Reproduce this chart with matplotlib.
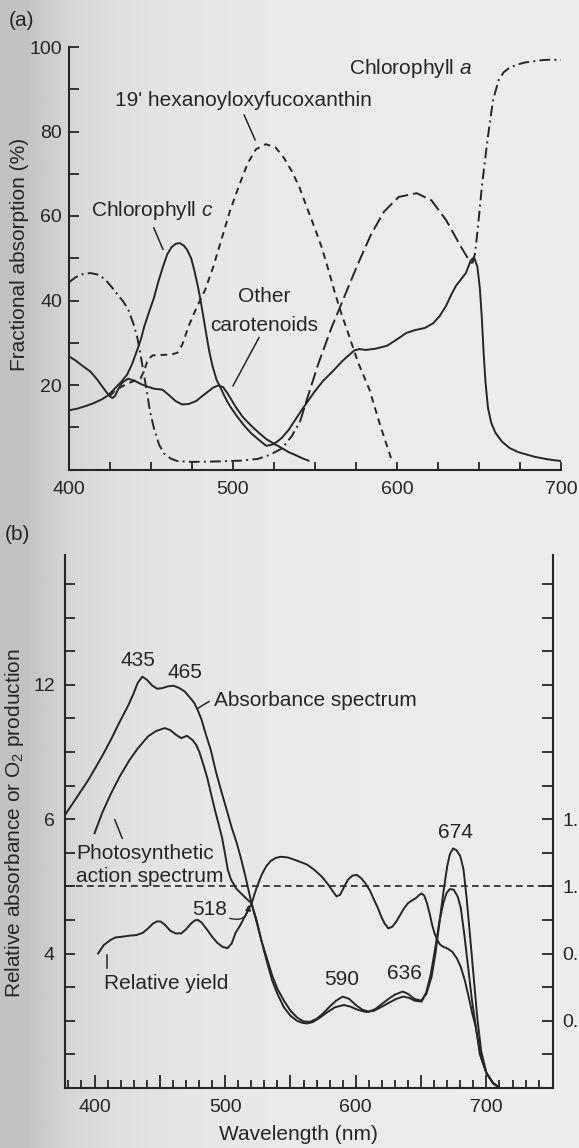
import matplotlib
matplotlib.use('Agg')
import numpy as np
import matplotlib.pyplot as plt
from matplotlib.ticker import FixedLocator, MultipleLocator, FuncFormatter, FixedFormatter

plt.rcParams['font.family'] = ['Liberation Sans', 'DejaVu Sans']
plt.rcParams['mathtext.fontset'] = 'custom'
plt.rcParams['mathtext.rm'] = 'Liberation Sans'
plt.rcParams['mathtext.it'] = 'Liberation Sans:italic'
plt.rcParams['font.size'] = 15

INK = '#262626'
TXT = 15

# ---------------- (a) fractional absorption (%) ----------------
chla_nm = [400, 404, 408, 413, 418, 422, 426, 430, 433, 436, 439, 441.5, 443.5, 445, 447, 449.5,
           452, 455, 458, 462, 466, 475, 490, 505, 515, 522, 530, 536, 541, 545, 552, 560, 568,
           576, 584, 592, 601, 612, 621, 630, 639, 644, 646, 647.5, 649, 651.7, 655.1, 658.5,
           661.8, 665, 668.6, 673, 677.6, 683, 688.8, 694, 700]
chla = [44.3, 45.5, 46.2, 46.5, 46.1, 45.0, 43.2, 41.2, 39.8, 38.0, 34.8, 31.5, 27.5, 24.0, 19.5, 13.5,
        9.5, 5.8, 3.8, 2.6, 2.0, 1.8, 1.9, 2.1, 2.5, 3.4, 5.0, 8.0, 11.5, 16.5, 25.0, 33.5, 41.0,
        48.5, 55.5, 61.0, 64.5, 65.4, 63.7, 59.0, 52.7, 49.5, 48.8, 51.0, 56.0, 66.8, 77.8, 87.3,
        92.0, 94.0, 95.1, 95.8, 96.3, 96.6, 96.9, 97.0, 96.9]

hex_nm = [425, 428, 432, 436, 440, 443.5, 446, 448, 451, 456, 462, 466, 469, 473, 478, 483, 488,
          493, 498, 503.5, 509, 514, 520, 526, 531, 536, 540.5, 545, 549.5, 554, 558, 562, 566,
          570, 576.4, 583.2, 589.9, 596.6]
hexfuco = [17.5, 18.6, 19.6, 20.4, 21.0, 21.5, 23.5, 26.0, 27.0, 27.1, 27.2, 27.6, 29.5, 34.0, 38.5,
           42.5, 48.0, 54.5, 61.0, 67.0, 72.5, 75.8, 77.0, 76.2, 73.8, 70.5, 66.8, 62.1, 57.5,
           52.7, 47.5, 42.0, 37.0, 32.5, 25.2, 18.9, 10.3, 2.4]

chlc_nm = [400, 405, 410, 415, 420, 424, 428, 432, 435.5, 438.5, 441.6, 444, 446, 449, 451.7,
           454.5, 457.3, 460, 462.5, 465, 467.4, 470, 472, 474.5, 476.5, 478.5, 480, 482, 483.5,
           485.5, 487.5, 490, 492.5, 495, 497.8, 502, 506.8, 511, 515.8, 520.3, 524, 527, 530,
           534, 538, 543, 549.5, 555, 560.7, 567, 574, 577, 581, 587, 594, 600, 605.6, 611,
           617, 622, 626, 630, 633, 636, 639, 642, 645, 647, 649, 650.5, 651.7, 652.9, 654,
           655.5, 657.5, 660, 664, 668.6, 674, 684, 692, 700]
chlc = [14.0, 14.4, 15.0, 15.7, 16.6, 17.6, 19.2, 20.8, 22.5, 25.0, 28.3, 31.0, 34.0, 37.5, 40.5,
        44.5, 48.0, 51.0, 52.6, 53.4, 53.6, 53.0, 52.0, 50.0, 47.0, 43.5, 40.5, 36.0, 32.5,
        28.0, 24.5, 21.2, 19.3, 17.2, 15.2, 12.8, 10.4, 8.6, 7.0, 5.6, 5.9, 6.6, 7.6,
        9.4, 11.8, 14.7, 18.3, 21.0, 23.2, 25.8, 28.2, 28.5, 28.3, 28.6, 29.3, 30.8, 32.3, 33.0,
        33.5, 34.6, 36.3, 38.8, 41.3, 43.5, 45.0, 46.5, 49.5, 50.2, 48.0, 43.0, 36.0, 27.0, 20.5,
        14.5, 11.0, 8.7, 6.6, 5.1, 4.1, 3.0, 2.4, 2.0]

car_nm = [400, 404, 408, 413, 417, 420, 423, 425, 426.5, 428, 430, 432.5, 436, 440, 444, 448, 452,
          457, 461, 465, 469, 473, 477.5, 481, 484.3, 488, 491, 494, 497, 502, 506, 511, 516,
          520.3, 525, 529.2, 534, 538.2, 542, 546]
car = [26.8, 25.8, 24.6, 23.2, 21.4, 19.8, 18.2, 17.3, 16.9, 17.4, 19.0, 20.6, 21.5, 21.0, 20.2,
       19.6, 19.1, 18.9, 17.6, 16.2, 15.4, 15.5, 16.2, 17.3, 18.3, 19.4, 19.9, 19.5, 17.8, 14.6,
       12.4, 10.4, 8.6, 7.2, 6.1, 5.2, 4.1, 3.4, 2.7, 2.1]

# ---------------- (b) absorbance / action spectrum / yield ----------------
abs_nm = [377, 383, 389, 395, 401, 407, 413, 418, 422, 426, 430, 433, 436.6, 440, 444, 448, 452,
          456, 460.5, 465, 469, 473, 476.5, 479.5, 482, 485, 489, 493, 497.5, 501, 505, 508.8,
          512, 515.5, 520.2, 524, 528, 532, 536, 540, 545, 550, 555, 560, 565, 570, 575, 580,
          585, 590, 595, 600, 605, 610, 615, 620, 625, 630, 636, 640, 645, 650, 654, 658, 661,
          664, 667, 670, 672, 674.5, 677, 680, 682.5, 685, 688, 690.5, 693, 696, 700, 705, 712]
absorb = [8.1, 8.45, 8.8, 9.15, 9.55, 9.96, 10.4, 10.8, 11.1, 11.4, 11.75, 12.05, 12.24, 12.15,
          11.98, 11.88, 11.9, 11.95, 11.97, 11.9, 11.8, 11.62, 11.45, 11.2, 10.95, 10.55, 10.06,
          9.4, 8.77, 8.3, 7.75, 7.3, 6.85, 6.3, 5.49, 4.95, 4.35, 3.85, 3.35, 2.95, 2.6, 2.3,
          2.1, 1.98, 1.97, 2.06, 2.22, 2.42, 2.6, 2.72, 2.65, 2.47, 2.33, 2.27, 2.35, 2.5, 2.65,
          2.78, 2.87, 2.8, 2.65, 2.6, 2.8, 3.3, 4.0, 4.9, 5.8, 6.6, 6.95, 7.13, 7.08, 6.9, 6.5,
          5.6, 4.3, 3.2, 2.1, 1.1, 0.45, 0.15, -0.05]

act_nm = [400, 406, 412.7, 419, 426.8, 433, 440.9, 447, 453.7, 458, 462, 466.4, 470.7, 474.9, 478,
          480.6, 483.5, 486.5, 489.1, 492, 495, 497.6, 500, 502, 504.5, 508.8, 514.5, 520.2, 524,
          528, 532, 536, 540, 545, 550, 555, 559, 562.6, 567, 572, 578, 584, 590.9, 596, 602,
          608, 614, 620, 626, 631, 636.2, 641, 645, 650.4, 654, 657.5, 661, 664, 667, 669.5,
          672, 675, 678, 680.4, 683, 686, 689, 692, 695, 700, 705, 712]
action = [7.58, 8.2, 8.77, 9.25, 9.76, 10.1, 10.46, 10.62, 10.71, 10.65, 10.52, 10.41, 10.48,
          10.36, 10.2, 9.96, 9.6, 9.2, 8.77, 8.3, 7.85, 7.45, 6.95, 6.5, 6.2, 5.92, 5.7, 5.49,
          5.0, 4.35, 3.75, 3.2, 2.8, 2.4, 2.15, 2.0, 1.94, 1.92, 1.96, 2.08, 2.25, 2.4, 2.47,
          2.42, 2.32, 2.26, 2.3, 2.42, 2.55, 2.65, 2.72, 2.68, 2.6, 2.57, 2.85, 3.4, 4.2, 4.95,
          5.5, 5.8, 5.92, 5.9, 5.7, 5.36, 4.6, 3.6, 2.6, 1.8, 1.0, 0.45, 0.15, -0.05]

yld_nm = [402.7, 407, 412, 416, 421, 426, 432, 437, 441, 445, 448, 450.8, 454, 458, 462, 466.4,
          470, 474, 477, 479.2, 482, 486, 490, 494, 498, 501.8, 505, 508, 511.7, 515, 520.2, 524,
          528, 531.5, 535, 539, 542.8, 548, 554, 562.6, 568, 574, 579, 582.5, 585.3, 588, 591,
          594, 597.5, 600.9, 604, 607.5, 610.8, 614, 617, 619.5, 622, 624.9, 628, 631, 634, 637,
          640, 643, 646, 648.5, 650.4, 652.5, 654.5, 656.5, 658.5, 660.3, 662.5, 664.5, 667,
          670.2, 674, 677.5, 680.4, 683.5, 686.5, 689, 691.8, 694, 696, 700, 705, 712]
yld = [4.0, 4.25, 4.4, 4.48, 4.5, 4.53, 4.55, 4.62, 4.75, 4.9, 4.96, 4.95, 4.85, 4.68, 4.6, 4.6,
       4.72, 4.9, 4.99, 5.0, 4.92, 4.72, 4.5, 4.32, 4.2, 4.16, 4.3, 4.62, 4.85, 5.1, 5.49, 5.95,
       6.35, 6.6, 6.76, 6.85, 6.88, 6.86, 6.78, 6.65, 6.5, 6.29, 6.05, 5.85, 5.7, 5.75, 5.98,
       6.2, 6.32, 6.34, 6.25, 6.08, 5.88, 5.6, 5.35, 5.1, 4.9, 4.75, 4.8, 4.95, 5.15, 5.35, 5.5,
       5.58, 5.65, 5.74, 5.79, 5.72, 5.5, 5.2, 4.85, 4.6, 4.4, 4.27, 4.2, 4.15, 4.05, 3.85, 3.6,
       3.2, 2.7, 2.25, 1.83, 1.35, 0.9, 0.45, 0.15, -0.05]

left_ticks = [4, 8, 12]
left_labels = ['4', '6', '12']
right_ticks = [0.6, 0.8, 1.0, 1.2]
right_labels = ['0.6', '0.8', '1.0', '1.2']
unit_line = 1.0

fig = plt.figure(figsize=(5.79, 11.48), dpi=100)

# paper shade of the scan, darker at the binding side
bg = fig.add_axes([0, 0, 1, 1], zorder=-10)
shade = [0.76, 0.84, 0.875, 0.895, 0.905, 0.91, 0.915, 0.918, 0.92, 0.922, 0.924, 0.925]
bg.imshow(np.array(shade)[None, :], cmap='gray', vmin=0, vmax=1, aspect='auto',
          interpolation='bilinear', extent=[0, 1, 0, 1])
bg.axis('off')

LW = 1.4

# ---- panel a
ax1 = fig.add_axes([69 / 579, 1 - 469.5 / 1148, (561 - 69) / 579, (469.5 - 47) / 1148])
ax1.patch.set_alpha(0)
ax1.set_xlim(400, 700)
ax1.set_ylim(0, 100)
for s in ['top', 'right']:
    ax1.spines[s].set_visible(False)
for s in ['left', 'bottom']:
    ax1.spines[s].set_linewidth(1.5)
    ax1.spines[s].set_color(INK)

# chlorophyll a: dash-dot, the 540-646 stretch is printed as plain long dashes
nm_a = np.array(chla_nm)
val_a = np.array(chla)
lo = nm_a <= 541
mid = (nm_a >= 541) & (nm_a <= 646)
hi = nm_a >= 646
dashdot = (0, (5.5, 2.2, 1.0, 2.2))
ax1.plot(nm_a[lo], val_a[lo], color=INK, lw=LW, ls=dashdot)
ax1.plot(nm_a[mid], val_a[mid], color=INK, lw=LW, ls=(0, (7, 2.6)))
ax1.plot(nm_a[hi], val_a[hi], color=INK, lw=LW, ls=dashdot)
ax1.plot(hex_nm, hexfuco, color=INK, lw=LW, ls=(0, (3.4, 2.6)))
ax1.plot(chlc_nm, chlc, color=INK, lw=LW)
ax1.plot(car_nm, car, color=INK, lw=LW)

ax1.xaxis.set_major_locator(FixedLocator([400, 500, 600, 700]))
ax1.xaxis.set_minor_locator(MultipleLocator(25))
ax1.yaxis.set_major_locator(FixedLocator([20, 40, 60, 80, 100]))
ax1.yaxis.set_minor_locator(MultipleLocator(10))
ax1.tick_params(axis='x', which='both', direction='in', length=5.8, width=1.3, color=INK,
                pad=8, labelcolor=INK, labelsize=14)
ax1.tick_params(axis='y', which='both', direction='in', length=7.2, width=1.3, color=INK,
                pad=5, labelcolor=INK, labelsize=14)

ax1.text(570.9, 94.9, 'Chlorophyll $a$', ha='left', va='center', color=INK, fontsize=TXT)
ax1.text(428.1, 87.3, "19' hexanoyloxyfucoxanthin", ha='left', va='center', color=INK, fontsize=TXT)
ax1.plot([506.8, 513.5], [83.9, 78.0], color=INK, lw=1.1)
ax1.text(413.5, 61.3, 'Chlorophyll $c$', ha='left', va='center', color=INK, fontsize=TXT)
ax1.plot([451.7, 457.3], [57.2, 52.1], color=INK, lw=1.1)
ax1.text(519.1, 40.9, 'Other', ha='center', va='center', color=INK, fontsize=TXT)
ax1.text(519.1, 34.2, 'carotenoids', ha='center', va='center', color=INK, fontsize=TXT)
ax1.plot([515.8, 500.0], [31.2, 19.8], color=INK, lw=1.1)

fig.text(22 / 579, 1 - 20 / 1148, '(a)', ha='center', va='center', color=INK, fontsize=TXT)
fig.text(20 / 579, 1 - 254 / 1148, 'Fractional absorption (%)', rotation=90,
         ha='center', va='center', color=INK, fontsize=TXT)

# ---- panel b
ax2 = fig.add_axes([64.5 / 579, 1 - 1088 / 1148, (553 - 64.5) / 579, (1088 - 555) / 1148])
ax2.patch.set_alpha(0)
ax2.set_xlim(377, 751)
ax2.set_ylim(0, 15.86)
ax2.spines['top'].set_visible(False)
ax2.spines['right'].set_visible(False)
for s in ['left', 'bottom']:
    ax2.spines[s].set_linewidth(1.5)
    ax2.spines[s].set_color(INK)

ax2.plot(abs_nm, absorb, color=INK, lw=LW)
ax2.plot(act_nm, action, color=INK, lw=LW)
ax2.plot(yld_nm, yld, color=INK, lw=LW)

ax2.xaxis.set_major_locator(FixedLocator(list(range(400, 701, 50))))
ax2.xaxis.set_minor_locator(FixedLocator(list(range(380, 750, 10))))
ax2.xaxis.set_major_formatter(FuncFormatter(lambda v, p: '%d' % v if v % 100 == 0 else ''))
ax2.tick_params(axis='x', which='major', direction='in', length=9.4, width=1.3, color=INK,
                pad=8, labelcolor=INK, labelsize=14)
ax2.tick_params(axis='x', which='minor', direction='in', length=5.5, width=1.3, color=INK)
ax2.yaxis.set_major_locator(FixedLocator(left_ticks))
ax2.yaxis.set_major_formatter(FixedFormatter(left_labels))
ax2.yaxis.set_minor_locator(FixedLocator(list(range(1, 16))))
ax2.tick_params(axis='y', which='both', direction='in', length=7.2, width=1.3, color=INK,
                pad=7, labelcolor=INK, labelsize=14)

# right hand scale: relative yield, 1.0 sits on the dashed line
sec = ax2.secondary_yaxis('right', functions=(lambda u: 0.4 + 0.1 * u, lambda r: (r - 0.4) * 10))
sec.spines['right'].set_linewidth(1.5)
sec.spines['right'].set_color(INK)
sec.yaxis.set_major_locator(FixedLocator(right_ticks))
sec.yaxis.set_major_formatter(FixedFormatter(right_labels))
sec.yaxis.set_minor_locator(FixedLocator(list(np.round(np.arange(0.5, 1.95, 0.1), 1))))
sec.tick_params(axis='y', which='both', direction='in', length=8, width=1.3, color=INK,
                pad=6.5, labelcolor=INK, labelsize=14)
ax2.axhline((unit_line - 0.4) * 10, color=INK, lw=1.2, ls=(0, (4, 2.6)))

ax2.text(433.1, 12.72, '435', ha='center', va='center', color=INK, fontsize=TXT)
ax2.text(469.2, 12.35, '465', ha='center', va='center', color=INK, fontsize=TXT)
ax2.text(491.7, 11.52, 'Absorbance spectrum', ha='left', va='center', color=INK, fontsize=TXT)
ax2.plot([479.2, 487.6], [11.3, 11.5], color=INK, lw=1.1)
ax2.text(676.5, 7.6, '674', ha='center', va='center', color=INK, fontsize=TXT)
ax2.text(385.7, 6.99, 'Photosynthetic', ha='left', va='center', color=INK, fontsize=TXT)
ax2.text(385.7, 6.29, 'action spectrum', ha='left', va='center', color=INK, fontsize=TXT)
ax2.plot([415.5, 421.2], [7.98, 7.43], color=INK, lw=1.1)
ax2.text(488.3, 5.3, '518', ha='center', va='center', color=INK, fontsize=TXT)
ax2.annotate('', xy=(518.0, 5.45), xytext=(503.5, 5.05),
             arrowprops=dict(arrowstyle='-|>', connectionstyle='arc3,rad=0.6', lw=1.0,
                             color=INK, mutation_scale=8, shrinkA=0, shrinkB=0))
ax2.text(407.0, 3.12, 'Relative yield', ha='left', va='center', color=INK, fontsize=TXT)
ax2.plot([409.8, 409.8], [3.96, 3.56], color=INK, lw=1.1)
ax2.text(589.5, 3.24, '590', ha='center', va='center', color=INK, fontsize=TXT)
ax2.text(637.4, 3.41, '636', ha='center', va='center', color=INK, fontsize=TXT)

fig.text(17 / 579, 1 - 535 / 1148, '(b)', ha='center', va='center', color=INK, fontsize=TXT)
fig.text(15 / 579, 1 - 823 / 1148, 'Relative absorbance or O$_2$ production', rotation=90,
         ha='center', va='center', color=INK, fontsize=TXT)
fig.text(298 / 579, 1 - 1134 / 1148, 'Wavelength (nm)', ha='center', va='center',
         color=INK, fontsize=TXT)

fig.savefig('out.png', dpi=100, facecolor='#e8e8e6')
